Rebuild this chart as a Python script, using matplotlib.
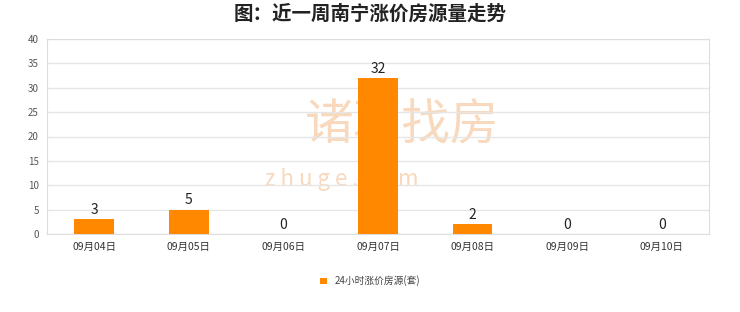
import numpy as np
import matplotlib.pyplot as plt

plt.rcParams['font.family'] = ['Noto Sans CJK SC', 'DejaVu Sans']

#====================== DATA ======================
dates = ['09月04日', '09月05日', '09月06日', '09月07日', '09月08日', '09月09日', '09月10日']
counts = [3, 5, 0, 32, 2, 0, 0]
yticks = [0, 5, 10, 15, 20, 25, 30, 35, 40]

#====================== PLOT ======================
fig = plt.figure(figsize=(7.4, 3.12), dpi=100)
ax = fig.add_axes([47/740, 1 - 234/312, 662/740, 195/312])

x = np.arange(len(dates))
ax.bar(x, counts, width=0.42, color='#ff8800', zorder=3, label='24小时涨价房源(套)')

for xi, v in zip(x, counts):
    ax.text(xi, v + 0.5, str(v), ha='center', va='bottom', fontsize=10, color='#222222', zorder=4)

ax.set_xlim(-0.5, len(dates) - 0.5)
ax.set_ylim(0, 40)
ax.set_yticks(yticks)
ax.set_xticks(x)
ax.set_xticklabels(dates, fontsize=7.5, color='#333333')
ax.tick_params(axis='y', labelsize=7, colors='#555555', length=0, pad=6)
ax.tick_params(axis='x', length=0, pad=6)
ax.grid(axis='y', color='#e6e6e6', linewidth=1, zorder=0)
for s in ax.spines.values():
    s.set_color('#dddddd')

# watermark
ax.text(0.39, 0.56, '诸葛找房', transform=ax.transAxes, fontsize=35, color='#f8d9bd',
        ha='left', va='center', zorder=1)
ax.text(0.33, 0.28, 'z h u g e . c o m', transform=ax.transAxes, fontsize=16, color='#f8d9bd',
        ha='left', va='center', zorder=1)

fig.suptitle('图：近一周南宁涨价房源量走势', y=0.985, fontsize=14, fontweight='bold', color='#222222')

fig.legend(loc='center', bbox_to_anchor=(0.5, 1 - 281/312), frameon=False, fontsize=7,
           handlelength=0.7, handleheight=0.7, labelcolor='#444444')

fig.savefig('out.png', dpi=100, facecolor='white')
